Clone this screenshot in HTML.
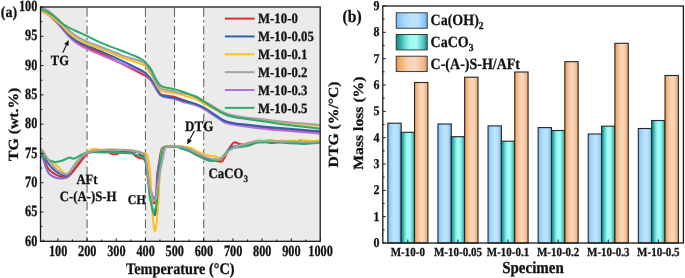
<!DOCTYPE html>
<html><head><meta charset="utf-8"><style>
html,body{margin:0;padding:0;background:#fff;}
body{width:685px;height:278px;overflow:hidden;}
svg{display:block;will-change:transform;}
text{font-family:"Liberation Serif",serif;font-weight:bold;fill:#111;stroke:#111;stroke-width:0.25px;text-rendering:geometricPrecision;}
</style></head><body>
<svg width="685" height="278" viewBox="0 0 685 278">
<defs>
<linearGradient id="gb" x1="0" x2="1" y1="0" y2="0"><stop offset="0" stop-color="#78bef5"/><stop offset="0.25" stop-color="#a6d7fb"/><stop offset="0.5" stop-color="#bde4fd"/><stop offset="0.72" stop-color="#b6e0fc"/><stop offset="0.9" stop-color="#88c8f6"/><stop offset="1" stop-color="#6cb2ee"/></linearGradient>
<linearGradient id="gt" x1="0" x2="1" y1="0" y2="0"><stop offset="0" stop-color="#138a82"/><stop offset="0.12" stop-color="#2aa89f"/><stop offset="0.3" stop-color="#72e2da"/><stop offset="0.45" stop-color="#a0fbf4"/><stop offset="0.65" stop-color="#a3fbf5"/><stop offset="0.85" stop-color="#5ccdc5"/><stop offset="1" stop-color="#1d9088"/></linearGradient>
<linearGradient id="go" x1="0" x2="1" y1="0" y2="0"><stop offset="0" stop-color="#e99850"/><stop offset="0.15" stop-color="#f2b276"/><stop offset="0.4" stop-color="#f8d2b4"/><stop offset="0.6" stop-color="#f9d8c1"/><stop offset="0.85" stop-color="#f2bd92"/><stop offset="1" stop-color="#e29c5c"/></linearGradient>
<clipPath id="clipa"><rect x="40.5" y="7.0" width="279.7" height="234.3"/></clipPath>
</defs>

<rect x="40.50" y="7.00" width="46.57" height="234.30" fill="#ebebeb"/>
<rect x="145.40" y="7.00" width="29.17" height="234.30" fill="#ebebeb"/>
<rect x="203.73" y="7.00" width="116.47" height="234.30" fill="#ebebeb"/>
<line x1="87.07" y1="7.00" x2="87.07" y2="241.30" stroke="#585858" stroke-width="1" stroke-dasharray="8.6,3.2,2.4,3.4" stroke-dashoffset="-1.2"/>
<line x1="145.40" y1="7.00" x2="145.40" y2="241.30" stroke="#585858" stroke-width="1" stroke-dasharray="8.6,3.2,2.4,3.4" stroke-dashoffset="-1.2"/>
<line x1="174.57" y1="7.00" x2="174.57" y2="241.30" stroke="#585858" stroke-width="1" stroke-dasharray="8.6,3.2,2.4,3.4" stroke-dashoffset="-1.2"/>
<line x1="203.73" y1="7.00" x2="203.73" y2="241.30" stroke="#585858" stroke-width="1" stroke-dasharray="8.6,3.2,2.4,3.4" stroke-dashoffset="-1.2"/>
<g clip-path="url(#clipa)" fill="none" stroke-width="2" stroke-linejoin="round" stroke-linecap="round">
<path d="M40.50,9.80 C41.62,10.43 44.88,12.07 47.20,13.60 C49.52,15.13 52.00,16.85 54.40,19.00 C56.80,21.15 59.22,23.80 61.60,26.50 C63.98,29.20 66.32,32.70 68.70,35.20 C71.08,37.70 72.90,39.48 75.90,41.50 C78.90,43.52 82.68,45.43 86.70,47.30 C90.72,49.17 94.18,49.98 100.00,52.70 C105.82,55.42 114.40,59.95 121.60,63.60 C128.80,67.25 138.88,72.28 143.20,74.60 C147.52,76.92 146.17,76.52 147.50,77.50 C148.83,78.48 149.92,78.98 151.20,80.50 C152.48,82.02 153.70,84.32 155.20,86.60 C156.70,88.88 158.52,92.72 160.20,94.20 C161.88,95.68 162.98,95.08 165.30,95.50 C167.62,95.92 171.32,96.03 174.10,96.70 C176.88,97.37 178.52,98.23 182.00,99.50 C185.48,100.77 191.40,102.88 195.00,104.30 C198.60,105.72 200.72,106.42 203.60,108.00 C206.48,109.58 208.93,111.57 212.30,113.80 C215.67,116.03 220.43,119.77 223.80,121.40 C227.17,123.03 228.90,122.90 232.50,123.60 C236.10,124.30 239.98,124.90 245.40,125.60 C250.82,126.30 258.17,127.07 265.00,127.80 C271.83,128.53 277.40,129.33 286.40,130.00 C295.40,130.67 313.57,131.50 319.00,131.80" stroke="#e8262c"/>
<path d="M40.50,10.40 C41.62,11.00 44.88,12.35 47.20,14.00 C49.52,15.65 52.00,17.97 54.40,20.30 C56.80,22.63 59.22,25.32 61.60,28.00 C63.98,30.68 66.32,33.95 68.70,36.40 C71.08,38.85 72.90,40.62 75.90,42.70 C78.90,44.78 82.68,46.92 86.70,48.90 C90.72,50.88 94.18,52.20 100.00,54.60 C105.82,57.00 114.40,60.33 121.60,63.30 C128.80,66.27 138.88,70.20 143.20,72.40 C147.52,74.60 146.17,75.07 147.50,76.50 C148.83,77.93 149.92,79.10 151.20,81.00 C152.48,82.90 153.70,85.57 155.20,87.90 C156.70,90.23 158.52,93.43 160.20,95.00 C161.88,96.57 162.98,96.68 165.30,97.30 C167.62,97.92 171.32,98.00 174.10,98.70 C176.88,99.40 178.52,100.43 182.00,101.50 C185.48,102.57 191.40,103.90 195.00,105.10 C198.60,106.30 200.72,107.13 203.60,108.70 C206.48,110.27 208.93,112.28 212.30,114.50 C215.67,116.72 220.43,120.32 223.80,122.00 C227.17,123.68 228.90,123.85 232.50,124.60 C236.10,125.35 239.98,125.78 245.40,126.50 C250.82,127.22 258.17,128.18 265.00,128.90 C271.83,129.62 277.40,130.05 286.40,130.80 C295.40,131.55 313.57,132.97 319.00,133.40" stroke="#b46ee6"/>
<path d="M40.50,9.80 C41.62,10.43 44.88,12.07 47.20,13.60 C49.52,15.13 52.00,16.90 54.40,19.00 C56.80,21.10 59.22,23.60 61.60,26.20 C63.98,28.80 66.32,32.20 68.70,34.60 C71.08,37.00 72.90,38.77 75.90,40.60 C78.90,42.43 82.68,43.90 86.70,45.60 C90.72,47.30 94.18,48.30 100.00,50.80 C105.82,53.30 114.40,57.18 121.60,60.60 C128.80,64.02 138.88,68.87 143.20,71.30 C147.52,73.73 146.17,73.83 147.50,75.20 C148.83,76.57 149.92,77.82 151.20,79.50 C152.48,81.18 153.70,82.85 155.20,85.30 C156.70,87.75 158.52,92.33 160.20,94.20 C161.88,96.07 162.98,95.87 165.30,96.50 C167.62,97.13 171.32,97.33 174.10,98.00 C176.88,98.67 178.52,99.55 182.00,100.50 C185.48,101.45 191.40,102.57 195.00,103.70 C198.60,104.83 200.72,105.75 203.60,107.30 C206.48,108.85 208.93,110.80 212.30,113.00 C215.67,115.20 220.43,118.85 223.80,120.50 C227.17,122.15 228.90,122.22 232.50,122.90 C236.10,123.58 239.98,123.97 245.40,124.60 C250.82,125.23 258.17,126.03 265.00,126.70 C271.83,127.37 277.40,127.85 286.40,128.60 C295.40,129.35 313.57,130.77 319.00,131.20" stroke="#2f63a8"/>
<path d="M40.50,9.80 C41.62,10.43 44.88,12.07 47.20,13.60 C49.52,15.13 52.00,17.08 54.40,19.00 C56.80,20.92 59.22,22.80 61.60,25.10 C63.98,27.40 66.32,30.62 68.70,32.80 C71.08,34.98 72.90,36.35 75.90,38.20 C78.90,40.05 82.68,42.20 86.70,43.90 C90.72,45.60 94.18,46.17 100.00,48.40 C105.82,50.63 114.40,54.57 121.60,57.30 C128.80,60.03 138.88,62.80 143.20,64.80 C147.52,66.80 146.17,67.60 147.50,69.30 C148.83,71.00 149.92,72.75 151.20,75.00 C152.48,77.25 153.70,80.23 155.20,82.80 C156.70,85.37 158.52,88.90 160.20,90.40 C161.88,91.90 162.98,91.38 165.30,91.80 C167.62,92.22 171.32,92.37 174.10,92.90 C176.88,93.43 178.52,94.00 182.00,95.00 C185.48,96.00 191.40,97.52 195.00,98.90 C198.60,100.28 200.72,101.78 203.60,103.30 C206.48,104.82 208.93,106.30 212.30,108.00 C215.67,109.70 220.43,112.08 223.80,113.50 C227.17,114.92 228.90,115.67 232.50,116.50 C236.10,117.33 239.98,117.87 245.40,118.50 C250.82,119.13 258.17,119.58 265.00,120.30 C271.83,121.02 277.40,121.88 286.40,122.80 C295.40,123.72 313.57,125.30 319.00,125.80" stroke="#fcbf1e"/>
<path d="M40.50,7.80 C41.62,8.17 44.88,8.67 47.20,10.00 C49.52,11.33 52.00,13.63 54.40,15.80 C56.80,17.97 59.22,20.62 61.60,23.00 C63.98,25.38 66.32,27.95 68.70,30.10 C71.08,32.25 72.90,34.00 75.90,35.90 C78.90,37.80 82.68,39.73 86.70,41.50 C90.72,43.27 94.18,44.23 100.00,46.50 C105.82,48.77 114.40,52.47 121.60,55.10 C128.80,57.73 138.88,60.32 143.20,62.30 C147.52,64.28 146.17,65.38 147.50,67.00 C148.83,68.62 149.92,69.57 151.20,72.00 C152.48,74.43 153.70,78.95 155.20,81.60 C156.70,84.25 158.52,86.53 160.20,87.90 C161.88,89.27 162.98,89.18 165.30,89.80 C167.62,90.42 171.32,91.03 174.10,91.60 C176.88,92.17 178.52,92.47 182.00,93.20 C185.48,93.93 191.40,94.73 195.00,96.00 C198.60,97.27 200.72,99.15 203.60,100.80 C206.48,102.45 208.93,103.98 212.30,105.90 C215.67,107.82 220.43,110.75 223.80,112.30 C227.17,113.85 228.90,114.35 232.50,115.20 C236.10,116.05 239.98,116.68 245.40,117.40 C250.82,118.12 258.17,118.72 265.00,119.50 C271.83,120.28 277.40,121.20 286.40,122.10 C295.40,123.00 313.57,124.43 319.00,124.90" stroke="#a3a3a3"/>
<path d="M40.50,8.80 C41.62,9.30 44.88,10.48 47.20,11.80 C49.52,13.12 52.00,14.83 54.40,16.70 C56.80,18.57 59.22,21.20 61.60,23.00 C63.98,24.80 66.32,26.17 68.70,27.50 C71.08,28.83 72.90,29.62 75.90,31.00 C78.90,32.38 82.68,33.92 86.70,35.80 C90.72,37.68 94.18,39.80 100.00,42.30 C105.82,44.80 115.77,48.52 121.60,50.80 C127.43,53.08 131.40,54.42 135.00,56.00 C138.60,57.58 141.12,58.83 143.20,60.30 C145.28,61.77 146.17,63.27 147.50,64.80 C148.83,66.33 149.92,67.33 151.20,69.50 C152.48,71.67 153.70,75.17 155.20,77.80 C156.70,80.43 158.52,83.70 160.20,85.30 C161.88,86.90 162.98,86.77 165.30,87.40 C167.62,88.03 171.32,88.42 174.10,89.10 C176.88,89.78 178.52,90.27 182.00,91.50 C185.48,92.73 191.40,94.83 195.00,96.50 C198.60,98.17 200.72,99.75 203.60,101.50 C206.48,103.25 208.93,104.95 212.30,107.00 C215.67,109.05 220.43,112.18 223.80,113.80 C227.17,115.42 228.90,115.87 232.50,116.70 C236.10,117.53 239.98,118.00 245.40,118.80 C250.82,119.60 258.17,120.52 265.00,121.50 C271.83,122.48 277.40,123.53 286.40,124.70 C295.40,125.87 313.57,127.87 319.00,128.50" stroke="#2ea86b"/>
<path d="M40.50,150.00 C41.08,151.33 42.73,154.93 44.00,158.00 C45.27,161.07 46.07,165.60 48.10,168.40 C50.13,171.20 53.50,173.27 56.20,174.80 C58.90,176.33 62.40,177.23 64.30,177.60 C66.20,177.97 66.25,177.87 67.60,177.00 C68.95,176.13 70.25,174.92 72.40,172.40 C74.55,169.88 78.07,165.00 80.50,161.90 C82.93,158.80 85.10,155.45 87.00,153.80 C88.90,152.15 89.73,152.38 91.90,152.00 C94.07,151.62 97.48,151.57 100.00,151.50 C102.52,151.43 105.17,151.25 107.00,151.60 C108.83,151.95 109.83,153.15 111.00,153.60 C112.17,154.05 113.00,154.22 114.00,154.30 C115.00,154.38 116.00,154.38 117.00,154.10 C118.00,153.82 118.50,152.98 120.00,152.60 C121.50,152.22 124.17,151.87 126.00,151.80 C127.83,151.73 129.33,151.42 131.00,152.20 C132.67,152.98 134.50,155.48 136.00,156.50 C137.50,157.52 138.83,157.97 140.00,158.30 C141.17,158.63 142.08,157.88 143.00,158.50 C143.92,159.12 144.80,159.75 145.50,162.00 C146.20,164.25 146.62,168.17 147.20,172.00 C147.78,175.83 148.28,180.67 149.00,185.00 C149.72,189.33 150.68,194.97 151.50,198.00 C152.32,201.03 153.23,203.03 153.90,203.20 C154.57,203.37 155.07,201.20 155.50,199.00 C155.93,196.80 156.23,194.00 156.50,190.00 C156.77,186.00 156.63,179.72 157.10,175.00 C157.57,170.28 158.63,165.78 159.30,161.70 C159.97,157.62 160.48,152.87 161.10,150.50 C161.72,148.13 162.18,148.12 163.00,147.50 C163.82,146.88 164.17,146.95 166.00,146.80 C167.83,146.65 171.50,146.53 174.00,146.60 C176.50,146.67 178.67,146.63 181.00,147.20 C183.33,147.77 185.67,148.80 188.00,150.00 C190.33,151.20 192.67,153.15 195.00,154.40 C197.33,155.65 199.67,156.57 202.00,157.50 C204.33,158.43 206.67,159.42 209.00,160.00 C211.33,160.58 213.83,160.77 216.00,161.00 C218.17,161.23 220.43,162.23 222.00,161.40 C223.57,160.57 224.23,158.07 225.40,156.00 C226.57,153.93 227.78,151.08 229.00,149.00 C230.22,146.92 231.63,144.62 232.70,143.50 C233.77,142.38 234.28,142.22 235.40,142.30 C236.52,142.38 237.80,143.55 239.40,144.00 C241.00,144.45 243.23,145.08 245.00,145.00 C246.77,144.92 248.03,144.03 250.00,143.50 C251.97,142.97 254.30,142.08 256.80,141.80 C259.30,141.52 262.30,141.60 265.00,141.80 C267.70,142.00 270.50,142.97 273.00,143.00 C275.50,143.03 275.50,142.12 280.00,142.00 C284.50,141.88 293.50,142.25 300.00,142.30 C306.50,142.35 315.83,142.30 319.00,142.30" stroke="#e8262c"/>
<path d="M40.50,154.60 C41.02,155.50 42.77,158.05 43.60,160.00 C44.43,161.95 44.78,164.32 45.50,166.30 C46.22,168.28 46.97,170.38 47.90,171.90 C48.83,173.42 49.78,174.42 51.10,175.40 C52.42,176.38 54.22,177.27 55.80,177.80 C57.38,178.33 59.27,178.53 60.60,178.60 C61.93,178.67 62.88,178.47 63.80,178.20 C64.72,177.93 65.18,177.65 66.10,177.00 C67.02,176.35 68.32,175.47 69.30,174.30 C70.28,173.13 70.22,172.55 72.00,170.00 C73.78,167.45 77.33,162.00 80.00,159.00 C82.67,156.00 85.33,153.40 88.00,152.00 C90.67,150.60 92.33,150.85 96.00,150.60 C99.67,150.35 106.00,150.50 110.00,150.50 C114.00,150.50 116.67,150.52 120.00,150.60 C123.33,150.68 127.00,150.77 130.00,151.00 C133.00,151.23 136.33,151.42 138.00,152.00 C139.67,152.58 139.17,153.83 140.00,154.50 C140.83,155.17 142.08,155.08 143.00,156.00 C143.92,156.92 144.75,157.33 145.50,160.00 C146.25,162.67 146.75,167.67 147.50,172.00 C148.25,176.33 149.17,182.08 150.00,186.00 C150.83,189.92 151.72,193.25 152.50,195.50 C153.28,197.75 154.12,199.58 154.70,199.50 C155.28,199.42 155.62,197.42 156.00,195.00 C156.38,192.58 156.73,188.33 157.00,185.00 C157.27,181.67 157.18,178.83 157.60,175.00 C158.02,171.17 158.85,166.00 159.50,162.00 C160.15,158.00 160.83,153.33 161.50,151.00 C162.17,148.67 162.75,148.75 163.50,148.00 C164.25,147.25 164.25,146.75 166.00,146.50 C167.75,146.25 171.50,146.42 174.00,146.50 C176.50,146.58 178.67,146.55 181.00,147.00 C183.33,147.45 185.67,148.28 188.00,149.20 C190.33,150.12 192.67,151.33 195.00,152.50 C197.33,153.67 199.67,155.15 202.00,156.20 C204.33,157.25 206.67,158.23 209.00,158.80 C211.33,159.37 214.05,159.57 216.00,159.60 C217.95,159.63 219.13,159.93 220.70,159.00 C222.27,158.07 223.85,155.80 225.40,154.00 C226.95,152.20 228.12,149.50 230.00,148.20 C231.88,146.90 234.47,146.80 236.70,146.20 C238.93,145.60 241.17,145.15 243.40,144.60 C245.63,144.05 247.87,143.40 250.10,142.90 C252.33,142.40 253.48,141.82 256.80,141.60 C260.12,141.38 265.30,141.55 270.00,141.60 C274.70,141.65 279.83,142.03 285.00,141.90 C290.17,141.77 296.83,140.87 301.00,140.80 C305.17,140.73 307.00,141.30 310.00,141.50 C313.00,141.70 317.50,141.92 319.00,142.00" stroke="#7c6fd8"/>
<path d="M40.50,150.50 C41.08,151.33 42.75,153.42 44.00,155.50 C45.25,157.58 46.67,160.92 48.00,163.00 C49.33,165.08 50.63,166.58 52.00,168.00 C53.37,169.42 54.87,170.50 56.20,171.50 C57.53,172.50 58.65,173.25 60.00,174.00 C61.35,174.75 63.03,175.78 64.30,176.00 C65.57,176.22 66.25,176.38 67.60,175.30 C68.95,174.22 70.25,172.25 72.40,169.50 C74.55,166.75 78.07,161.63 80.50,158.80 C82.93,155.97 85.08,153.80 87.00,152.50 C88.92,151.20 89.83,151.30 92.00,151.00 C94.17,150.70 97.00,150.78 100.00,150.70 C103.00,150.62 106.67,150.50 110.00,150.50 C113.33,150.50 116.67,150.58 120.00,150.70 C123.33,150.82 127.00,150.93 130.00,151.20 C133.00,151.47 136.33,151.75 138.00,152.30 C139.67,152.85 139.17,153.88 140.00,154.50 C140.83,155.12 142.08,155.08 143.00,156.00 C143.92,156.92 144.78,157.33 145.50,160.00 C146.22,162.67 146.63,167.00 147.30,172.00 C147.97,177.00 148.75,184.50 149.50,190.00 C150.25,195.50 151.12,201.08 151.80,205.00 C152.48,208.92 153.08,211.82 153.60,213.50 C154.12,215.18 154.50,215.43 154.90,215.10 C155.30,214.77 155.65,214.02 156.00,211.50 C156.35,208.98 156.70,204.25 157.00,200.00 C157.30,195.75 157.57,190.17 157.80,186.00 C158.03,181.83 158.07,179.00 158.40,175.00 C158.73,171.00 159.23,166.08 159.80,162.00 C160.37,157.92 161.18,152.83 161.80,150.50 C162.42,148.17 162.80,148.67 163.50,148.00 C164.20,147.33 164.25,146.77 166.00,146.50 C167.75,146.23 171.50,146.32 174.00,146.40 C176.50,146.48 178.67,146.48 181.00,147.00 C183.33,147.52 185.67,148.50 188.00,149.50 C190.33,150.50 192.67,151.83 195.00,153.00 C197.33,154.17 199.67,155.50 202.00,156.50 C204.33,157.50 206.67,158.42 209.00,159.00 C211.33,159.58 214.05,159.92 216.00,160.00 C217.95,160.08 219.13,160.50 220.70,159.50 C222.27,158.50 223.85,155.92 225.40,154.00 C226.95,152.08 228.12,149.33 230.00,148.00 C231.88,146.67 234.47,146.58 236.70,146.00 C238.93,145.42 241.17,145.03 243.40,144.50 C245.63,143.97 247.87,143.30 250.10,142.80 C252.33,142.30 253.48,141.72 256.80,141.50 C260.12,141.28 265.30,141.45 270.00,141.50 C274.70,141.55 280.83,141.78 285.00,141.80 C289.17,141.82 292.33,141.80 295.00,141.60 C297.67,141.40 299.00,140.60 301.00,140.60 C303.00,140.60 304.00,141.37 307.00,141.60 C310.00,141.83 317.00,141.93 319.00,142.00" stroke="#2f63a8"/>
<path d="M40.50,148.90 C41.25,149.92 43.47,152.98 45.00,155.00 C46.53,157.02 47.83,159.32 49.70,161.00 C51.57,162.68 54.15,163.43 56.20,165.10 C58.25,166.77 60.25,169.45 62.00,171.00 C63.75,172.55 64.97,174.83 66.70,174.40 C68.43,173.97 70.10,171.17 72.40,168.40 C74.70,165.63 78.23,160.45 80.50,157.80 C82.77,155.15 84.10,153.92 86.00,152.50 C87.90,151.08 90.23,149.92 91.90,149.30 C93.57,148.68 94.65,148.72 96.00,148.80 C97.35,148.88 97.67,149.67 100.00,149.80 C102.33,149.93 106.67,149.58 110.00,149.60 C113.33,149.62 116.67,149.78 120.00,149.90 C123.33,150.02 127.00,149.98 130.00,150.30 C133.00,150.62 135.92,151.25 138.00,151.80 C140.08,152.35 141.27,153.38 142.50,153.60 C143.73,153.82 144.55,152.77 145.40,153.10 C146.25,153.43 147.00,153.87 147.60,155.60 C148.20,157.33 148.55,160.27 149.00,163.50 C149.45,166.73 149.98,171.42 150.30,175.00 C150.62,178.58 150.68,180.83 150.90,185.00 C151.12,189.17 151.32,195.17 151.60,200.00 C151.88,204.83 152.23,209.58 152.60,214.00 C152.97,218.42 153.42,223.62 153.80,226.50 C154.18,229.38 154.53,231.22 154.90,231.30 C155.27,231.38 155.60,229.48 156.00,227.00 C156.40,224.52 156.90,220.57 157.30,216.40 C157.70,212.23 158.10,206.73 158.40,202.00 C158.70,197.27 158.87,192.67 159.10,188.00 C159.33,183.33 159.53,178.67 159.80,174.00 C160.07,169.33 160.37,163.83 160.70,160.00 C161.03,156.17 161.33,153.03 161.80,151.00 C162.27,148.97 162.80,148.53 163.50,147.80 C164.20,147.07 164.25,146.90 166.00,146.60 C167.75,146.30 171.50,146.07 174.00,146.00 C176.50,145.93 179.00,146.05 181.00,146.20 C183.00,146.35 184.67,146.70 186.00,146.90 C187.33,147.10 188.00,147.15 189.00,147.40 C190.00,147.65 191.00,147.93 192.00,148.40 C193.00,148.87 193.83,149.57 195.00,150.20 C196.17,150.83 197.83,151.63 199.00,152.20 C200.17,152.77 201.00,153.20 202.00,153.60 C203.00,154.00 203.83,154.27 205.00,154.60 C206.17,154.93 207.67,155.35 209.00,155.60 C210.33,155.85 211.83,155.93 213.00,156.10 C214.17,156.27 214.72,156.32 216.00,156.60 C217.28,156.88 219.13,158.15 220.70,157.80 C222.27,157.45 223.85,155.88 225.40,154.50 C226.95,153.12 228.12,150.83 230.00,149.50 C231.88,148.17 234.47,147.33 236.70,146.50 C238.93,145.67 241.17,145.17 243.40,144.50 C245.63,143.83 247.87,143.08 250.10,142.50 C252.33,141.92 255.38,141.38 256.80,141.00 C258.22,140.62 257.73,140.20 258.60,140.20 C259.47,140.20 259.83,141.07 262.00,141.00 C264.17,140.93 269.27,139.80 271.60,139.80 C273.93,139.80 273.98,140.87 276.00,141.00 C278.02,141.13 281.53,140.57 283.70,140.60 C285.87,140.63 287.22,141.22 289.00,141.20 C290.78,141.18 292.57,140.48 294.40,140.50 C296.23,140.52 297.98,141.33 300.00,141.30 C302.02,141.27 304.50,140.32 306.50,140.30 C308.50,140.28 309.98,141.15 312.00,141.20 C314.02,141.25 317.50,140.70 318.60,140.60" stroke="#fcbf1e"/>
<path d="M40.50,152.20 C41.23,153.13 43.37,156.45 44.90,157.80 C46.43,159.15 48.08,159.62 49.70,160.30 C51.32,160.98 52.72,161.78 54.60,161.90 C56.48,162.02 59.10,161.48 61.00,161.00 C62.90,160.52 64.63,159.58 66.00,159.00 C67.37,158.42 67.87,157.57 69.20,157.50 C70.53,157.43 72.12,158.95 74.00,158.60 C75.88,158.25 78.33,156.43 80.50,155.40 C82.67,154.37 84.30,152.92 87.00,152.40 C89.70,151.88 93.70,152.28 96.70,152.30 C99.70,152.32 102.45,152.45 105.00,152.50 C107.55,152.55 109.50,152.53 112.00,152.60 C114.50,152.67 117.33,152.80 120.00,152.90 C122.67,153.00 125.67,153.02 128.00,153.20 C130.33,153.38 132.00,153.47 134.00,154.00 C136.00,154.53 138.40,155.87 140.00,156.40 C141.60,156.93 142.70,156.47 143.60,157.20 C144.50,157.93 144.88,159.00 145.40,160.80 C145.92,162.60 146.33,165.63 146.70,168.00 C147.07,170.37 147.33,172.83 147.60,175.00 C147.87,177.17 147.98,177.67 148.30,181.00 C148.62,184.33 149.00,191.17 149.50,195.00 C150.00,198.83 150.78,201.42 151.30,204.00 C151.82,206.58 152.22,208.97 152.60,210.50 C152.98,212.03 153.25,213.03 153.60,213.20 C153.95,213.37 154.33,212.43 154.70,211.50 C155.07,210.57 155.37,210.02 155.80,207.60 C156.23,205.18 156.87,201.60 157.30,197.00 C157.73,192.40 158.13,184.00 158.40,180.00 C158.67,176.00 158.60,175.75 158.90,173.00 C159.20,170.25 159.60,167.25 160.20,163.50 C160.80,159.75 161.87,153.12 162.50,150.50 C163.13,147.88 163.42,148.42 164.00,147.80 C164.58,147.18 165.00,147.00 166.00,146.80 C167.00,146.60 168.33,146.63 170.00,146.60 C171.67,146.57 174.17,146.28 176.00,146.60 C177.83,146.92 179.00,147.80 181.00,148.50 C183.00,149.20 185.67,149.92 188.00,150.80 C190.33,151.68 192.67,152.62 195.00,153.80 C197.33,154.98 199.67,156.73 202.00,157.90 C204.33,159.07 206.67,160.32 209.00,160.80 C211.33,161.28 214.05,161.10 216.00,160.80 C217.95,160.50 219.13,160.13 220.70,159.00 C222.27,157.87 223.85,155.67 225.40,154.00 C226.95,152.33 228.12,150.10 230.00,149.00 C231.88,147.90 234.47,147.80 236.70,147.40 C238.93,147.00 241.17,146.97 243.40,146.60 C245.63,146.23 247.87,145.83 250.10,145.20 C252.33,144.57 253.43,143.28 256.80,142.80 C260.17,142.32 265.82,142.30 270.30,142.30 C274.78,142.30 279.23,142.62 283.70,142.80 C288.17,142.98 293.75,143.18 297.10,143.40 C300.45,143.62 301.57,144.10 303.80,144.10 C306.03,144.10 307.97,143.62 310.50,143.40 C313.03,143.18 317.58,142.90 319.00,142.80" stroke="#2ea86b"/>
<path d="M40.50,148.90 C40.95,149.30 41.93,149.55 43.20,151.30 C44.47,153.05 45.93,156.42 48.10,159.40 C50.27,162.38 53.50,166.77 56.20,169.20 C58.90,171.63 62.13,173.47 64.30,174.00 C66.47,174.53 67.03,174.57 69.20,172.40 C71.37,170.23 74.60,164.10 77.30,161.00 C80.00,157.90 82.97,155.42 85.40,153.80 C87.83,152.18 89.47,151.90 91.90,151.30 C94.33,150.70 96.98,150.48 100.00,150.20 C103.02,149.92 106.67,149.67 110.00,149.60 C113.33,149.53 116.67,149.70 120.00,149.80 C123.33,149.90 127.00,149.92 130.00,150.20 C133.00,150.48 135.88,151.02 138.00,151.50 C140.12,151.98 141.47,152.30 142.70,153.10 C143.93,153.90 144.73,154.57 145.40,156.30 C146.07,158.03 146.25,160.38 146.70,163.50 C147.15,166.62 147.65,171.42 148.10,175.00 C148.55,178.58 148.77,181.25 149.40,185.00 C150.03,188.75 151.07,194.83 151.90,197.50 C152.73,200.17 153.68,201.08 154.40,201.00 C155.12,200.92 155.63,199.50 156.20,197.00 C156.77,194.50 157.23,189.67 157.80,186.00 C158.37,182.33 159.13,177.83 159.60,175.00 C160.07,172.17 160.12,171.50 160.60,169.00 C161.08,166.50 161.85,163.08 162.50,160.00 C163.15,156.92 163.83,152.67 164.50,150.50 C165.17,148.33 164.92,147.72 166.50,147.00 C168.08,146.28 171.58,146.30 174.00,146.20 C176.42,146.10 178.67,146.02 181.00,146.40 C183.33,146.78 185.67,147.57 188.00,148.50 C190.33,149.43 192.67,150.83 195.00,152.00 C197.33,153.17 199.67,154.43 202.00,155.50 C204.33,156.57 206.67,157.72 209.00,158.40 C211.33,159.08 214.05,159.50 216.00,159.60 C217.95,159.70 219.13,159.87 220.70,159.00 C222.27,158.13 223.85,155.90 225.40,154.40 C226.95,152.90 228.12,151.27 230.00,150.00 C231.88,148.73 234.47,147.67 236.70,146.80 C238.93,145.93 241.17,145.47 243.40,144.80 C245.63,144.13 247.87,143.40 250.10,142.80 C252.33,142.20 253.43,141.50 256.80,141.20 C260.17,140.90 265.82,140.97 270.30,141.00 C274.78,141.03 279.23,141.27 283.70,141.40 C288.17,141.53 292.63,141.68 297.10,141.80 C301.57,141.92 306.85,142.10 310.50,142.10 C314.15,142.10 317.58,141.85 319.00,141.80" stroke="#a3a3a3"/>
</g>
<line x1="224.9" y1="18.60" x2="254.5" y2="18.60" stroke="#e8262c" stroke-width="2"/>
<g transform="translate(258.00,23.30) scale(1,1.120)"><text x="0" y="0" font-size="12.80" text-anchor="start">M-10-0</text></g>
<line x1="224.9" y1="36.45" x2="254.5" y2="36.45" stroke="#2f63a8" stroke-width="2"/>
<g transform="translate(258.00,41.15) scale(1,1.120)"><text x="0" y="0" font-size="12.80" text-anchor="start">M-10-0.05</text></g>
<line x1="224.9" y1="54.30" x2="254.5" y2="54.30" stroke="#fcbf1e" stroke-width="2"/>
<g transform="translate(258.00,59.00) scale(1,1.120)"><text x="0" y="0" font-size="12.80" text-anchor="start">M-10-0.1</text></g>
<line x1="224.9" y1="72.15" x2="254.5" y2="72.15" stroke="#a3a3a3" stroke-width="2"/>
<g transform="translate(258.00,76.85) scale(1,1.120)"><text x="0" y="0" font-size="12.80" text-anchor="start">M-10-0.2</text></g>
<line x1="224.9" y1="90.00" x2="254.5" y2="90.00" stroke="#b46ee6" stroke-width="2"/>
<g transform="translate(258.00,94.70) scale(1,1.120)"><text x="0" y="0" font-size="12.80" text-anchor="start">M-10-0.3</text></g>
<line x1="224.9" y1="107.85" x2="254.5" y2="107.85" stroke="#2ea86b" stroke-width="2"/>
<g transform="translate(258.00,112.55) scale(1,1.120)"><text x="0" y="0" font-size="12.80" text-anchor="start">M-10-0.5</text></g>
<rect x="40.50" y="7.00" width="279.70" height="234.30" fill="none" stroke="#1a1a1a" stroke-width="1.3"/>
<path d="M57.90,241.30v-3 M87.07,241.30v-3 M116.23,241.30v-3 M145.40,241.30v-3 M174.57,241.30v-3 M203.73,241.30v-3 M232.90,241.30v-3 M262.07,241.30v-3 M291.24,241.30v-3 M320.40,241.30v-3 M43.32,241.30v-1.8 M72.48,241.30v-1.8 M101.65,241.30v-1.8 M130.82,241.30v-1.8 M159.98,241.30v-1.8 M189.15,241.30v-1.8 M218.32,241.30v-1.8 M247.49,241.30v-1.8 M276.65,241.30v-1.8 M305.82,241.30v-1.8 M40.50,241.30h3 M40.50,212.01h3 M40.50,182.72h3 M40.50,153.44h3 M40.50,124.15h3 M40.50,94.86h3 M40.50,65.58h3 M40.50,36.29h3 M40.50,7.00h3 M40.50,226.66h1.8 M40.50,197.37h1.8 M40.50,168.08h1.8 M40.50,138.79h1.8 M40.50,109.51h1.8 M40.50,80.22h1.8 M40.50,50.93h1.8 M40.50,21.64h1.8" stroke="#1a1a1a" stroke-width="1" fill="none"/>
<g transform="translate(37.40,245.50) scale(1,1.270)"><text x="0" y="0" font-size="12.30" text-anchor="end">60</text></g>
<g transform="translate(37.40,216.21) scale(1,1.270)"><text x="0" y="0" font-size="12.30" text-anchor="end">65</text></g>
<g transform="translate(37.40,186.92) scale(1,1.270)"><text x="0" y="0" font-size="12.30" text-anchor="end">70</text></g>
<g transform="translate(37.40,157.64) scale(1,1.270)"><text x="0" y="0" font-size="12.30" text-anchor="end">75</text></g>
<g transform="translate(37.40,128.35) scale(1,1.270)"><text x="0" y="0" font-size="12.30" text-anchor="end">80</text></g>
<g transform="translate(37.40,99.06) scale(1,1.270)"><text x="0" y="0" font-size="12.30" text-anchor="end">85</text></g>
<g transform="translate(37.40,69.78) scale(1,1.270)"><text x="0" y="0" font-size="12.30" text-anchor="end">90</text></g>
<g transform="translate(37.40,40.49) scale(1,1.270)"><text x="0" y="0" font-size="12.30" text-anchor="end">95</text></g>
<g transform="translate(37.40,11.20) scale(1,1.270)"><text x="0" y="0" font-size="12.30" text-anchor="end">100</text></g>
<g transform="translate(58.10,256.30) scale(1,1.270)"><text x="0" y="0" font-size="12.30" text-anchor="middle">100</text></g>
<g transform="translate(87.27,256.30) scale(1,1.270)"><text x="0" y="0" font-size="12.30" text-anchor="middle">200</text></g>
<g transform="translate(116.43,256.30) scale(1,1.270)"><text x="0" y="0" font-size="12.30" text-anchor="middle">300</text></g>
<g transform="translate(145.60,256.30) scale(1,1.270)"><text x="0" y="0" font-size="12.30" text-anchor="middle">400</text></g>
<g transform="translate(174.77,256.30) scale(1,1.270)"><text x="0" y="0" font-size="12.30" text-anchor="middle">500</text></g>
<g transform="translate(203.93,256.30) scale(1,1.270)"><text x="0" y="0" font-size="12.30" text-anchor="middle">600</text></g>
<g transform="translate(233.10,256.30) scale(1,1.270)"><text x="0" y="0" font-size="12.30" text-anchor="middle">700</text></g>
<g transform="translate(262.27,256.30) scale(1,1.270)"><text x="0" y="0" font-size="12.30" text-anchor="middle">800</text></g>
<g transform="translate(291.44,256.30) scale(1,1.270)"><text x="0" y="0" font-size="12.30" text-anchor="middle">900</text></g>
<g transform="translate(320.60,256.30) scale(1,1.270)"><text x="0" y="0" font-size="12.30" text-anchor="middle">1000</text></g>
<g transform="translate(180.30,273.50) scale(1,1.130)"><text x="0" y="0" font-size="14.30" text-anchor="middle">Temperature (°C)</text></g>
<g transform="translate(17.80,124.30) rotate(-90) scale(1.120,1)"><text x="0" y="0" font-size="14.00" text-anchor="middle">TG (wt.%)</text></g>
<g transform="translate(338.20,124.40) rotate(-90) scale(1.120,1)"><text x="0" y="0" font-size="14.00" text-anchor="middle">DTG (%/°C)</text></g>
<g transform="translate(0.80,17.00) scale(1,1.120)"><text x="0" y="0" font-size="14.00" text-anchor="start">(a)</text></g>
<g transform="translate(59.90,65.20) scale(1,1.120)"><text x="0" y="0" font-size="12.50" text-anchor="middle">TG</text></g>
<g transform="translate(199.20,130.60) scale(1,1.120)"><text x="0" y="0" font-size="13.00" text-anchor="middle">DTG</text></g>
<g transform="translate(87.00,184.40) scale(1,1.120)"><text x="0" y="0" font-size="12.60" text-anchor="middle">AFt</text></g>
<g transform="translate(88.10,200.50) scale(1,1.120)"><text x="0" y="0" font-size="12.80" text-anchor="middle">C-(A-)S-H</text></g>
<g transform="translate(136.80,204.30) scale(1,1.120)"><text x="0" y="0" font-size="12.00" text-anchor="middle">CH</text></g>
<g transform="translate(208.60,178.20) scale(1,1.120)"><text x="0" y="0" font-size="12.80" text-anchor="start">CaCO<tspan font-size="9" dy="3">3</tspan></text></g>
<line x1="62.80" y1="52.80" x2="66.59" y2="44.63" stroke="#111" stroke-width="1.1"/><path d="M68.70,40.10L68.56,46.10L64.21,44.08Z" fill="#111"/>
<line x1="194.40" y1="130.80" x2="189.53" y2="140.07" stroke="#111" stroke-width="1.1"/><path d="M187.20,144.50L187.63,138.51L191.88,140.75Z" fill="#111"/>
<rect x="387.83" y="123.20" width="13.35" height="119.80" fill="url(#gb)" stroke="#262626" stroke-width="1.1"/>
<rect x="401.18" y="132.30" width="13.35" height="110.70" fill="url(#gt)" stroke="#262626" stroke-width="1.1"/>
<rect x="414.53" y="82.50" width="13.35" height="160.50" fill="url(#go)" stroke="#262626" stroke-width="1.1"/>
<rect x="437.93" y="124.00" width="13.35" height="119.00" fill="url(#gb)" stroke="#262626" stroke-width="1.1"/>
<rect x="451.28" y="136.70" width="13.35" height="106.30" fill="url(#gt)" stroke="#262626" stroke-width="1.1"/>
<rect x="464.63" y="77.20" width="13.35" height="165.80" fill="url(#go)" stroke="#262626" stroke-width="1.1"/>
<rect x="488.03" y="125.90" width="13.35" height="117.10" fill="url(#gb)" stroke="#262626" stroke-width="1.1"/>
<rect x="501.38" y="141.20" width="13.35" height="101.80" fill="url(#gt)" stroke="#262626" stroke-width="1.1"/>
<rect x="514.73" y="72.00" width="13.35" height="171.00" fill="url(#go)" stroke="#262626" stroke-width="1.1"/>
<rect x="538.13" y="127.60" width="13.35" height="115.40" fill="url(#gb)" stroke="#262626" stroke-width="1.1"/>
<rect x="551.48" y="130.50" width="13.35" height="112.50" fill="url(#gt)" stroke="#262626" stroke-width="1.1"/>
<rect x="564.83" y="61.70" width="13.35" height="181.30" fill="url(#go)" stroke="#262626" stroke-width="1.1"/>
<rect x="588.23" y="134.00" width="13.35" height="109.00" fill="url(#gb)" stroke="#262626" stroke-width="1.1"/>
<rect x="601.58" y="126.20" width="13.35" height="116.80" fill="url(#gt)" stroke="#262626" stroke-width="1.1"/>
<rect x="614.92" y="43.30" width="13.35" height="199.70" fill="url(#go)" stroke="#262626" stroke-width="1.1"/>
<rect x="638.33" y="128.50" width="13.35" height="114.50" fill="url(#gb)" stroke="#262626" stroke-width="1.1"/>
<rect x="651.68" y="120.50" width="13.35" height="122.50" fill="url(#gt)" stroke="#262626" stroke-width="1.1"/>
<rect x="665.02" y="75.50" width="13.35" height="167.50" fill="url(#go)" stroke="#262626" stroke-width="1.1"/>
<rect x="396.2" y="12.80" width="31" height="15.4" fill="url(#gb)" stroke="#2a2a2a" stroke-width="0.9"/>
<g transform="translate(430.60,25.40) scale(1,1.120)"><text x="0" y="0" font-size="14.00" text-anchor="start">Ca(OH)<tspan font-size="9.5" dy="3.6">2</tspan></text></g>
<rect x="396.2" y="34.50" width="31" height="15.4" fill="url(#gt)" stroke="#2a2a2a" stroke-width="0.9"/>
<g transform="translate(430.60,47.10) scale(1,1.120)"><text x="0" y="0" font-size="14.00" text-anchor="start">CaCO<tspan font-size="9.5" dy="3.6">3</tspan></text></g>
<rect x="396.2" y="56.20" width="31" height="15.4" fill="url(#go)" stroke="#2a2a2a" stroke-width="0.9"/>
<g transform="translate(430.60,68.80) scale(1,1.120)"><text x="0" y="0" font-size="14.00" text-anchor="start">C-(A-)S-H/AFt</text></g>
<rect x="382.80" y="6.00" width="300.60" height="237.00" fill="none" stroke="#1a1a1a" stroke-width="1.3"/>
<path d="M382.80,243.00h3 M382.80,216.67h3 M382.80,190.33h3 M382.80,164.00h3 M382.80,137.67h3 M382.80,111.33h3 M382.80,85.00h3 M382.80,58.67h3 M382.80,32.33h3 M382.80,6.00h3 M382.80,229.83h1.8 M382.80,203.50h1.8 M382.80,177.17h1.8 M382.80,150.83h1.8 M382.80,124.50h1.8 M382.80,98.17h1.8 M382.80,71.83h1.8 M382.80,45.50h1.8 M382.80,19.17h1.8 M407.85,243.00v-3.5 M457.95,243.00v-3.5 M508.05,243.00v-3.5 M558.15,243.00v-3.5 M608.25,243.00v-3.5 M658.35,243.00v-3.5" stroke="#1a1a1a" stroke-width="1" fill="none"/>
<g transform="translate(379.60,247.00) scale(1,1.120)"><text x="0" y="0" font-size="12.00" text-anchor="end">0</text></g>
<g transform="translate(379.60,220.67) scale(1,1.120)"><text x="0" y="0" font-size="12.00" text-anchor="end">1</text></g>
<g transform="translate(379.60,194.33) scale(1,1.120)"><text x="0" y="0" font-size="12.00" text-anchor="end">2</text></g>
<g transform="translate(379.60,168.00) scale(1,1.120)"><text x="0" y="0" font-size="12.00" text-anchor="end">3</text></g>
<g transform="translate(379.60,141.67) scale(1,1.120)"><text x="0" y="0" font-size="12.00" text-anchor="end">4</text></g>
<g transform="translate(379.60,115.33) scale(1,1.120)"><text x="0" y="0" font-size="12.00" text-anchor="end">5</text></g>
<g transform="translate(379.60,89.00) scale(1,1.120)"><text x="0" y="0" font-size="12.00" text-anchor="end">6</text></g>
<g transform="translate(379.60,62.67) scale(1,1.120)"><text x="0" y="0" font-size="12.00" text-anchor="end">7</text></g>
<g transform="translate(379.60,36.33) scale(1,1.120)"><text x="0" y="0" font-size="12.00" text-anchor="end">8</text></g>
<g transform="translate(379.60,10.00) scale(1,1.120)"><text x="0" y="0" font-size="12.00" text-anchor="end">9</text></g>
<g transform="translate(407.85,256.20) scale(1,1.120)"><text x="0" y="0" font-size="11.00" text-anchor="middle">M-10-0</text></g>
<g transform="translate(457.95,256.20) scale(1,1.120)"><text x="0" y="0" font-size="11.00" text-anchor="middle">M-10-0.05</text></g>
<g transform="translate(508.05,256.20) scale(1,1.120)"><text x="0" y="0" font-size="11.00" text-anchor="middle">M-10-0.1</text></g>
<g transform="translate(558.15,256.20) scale(1,1.120)"><text x="0" y="0" font-size="11.00" text-anchor="middle">M-10-0.2</text></g>
<g transform="translate(608.25,256.20) scale(1,1.120)"><text x="0" y="0" font-size="11.00" text-anchor="middle">M-10-0.3</text></g>
<g transform="translate(658.35,256.20) scale(1,1.120)"><text x="0" y="0" font-size="11.00" text-anchor="middle">M-10-0.5</text></g>
<g transform="translate(533.00,272.70) scale(1,1.120)"><text x="0" y="0" font-size="15.00" text-anchor="middle">Specimen</text></g>
<g transform="translate(363.00,123.10) rotate(-90) scale(1.120,1)"><text x="0" y="0" font-size="14.00" text-anchor="middle">Mass loss (%)</text></g>
<g transform="translate(342.60,22.20) scale(1,1.120)"><text x="0" y="0" font-size="15.60" text-anchor="start">(b)</text></g>
</svg></body></html>
